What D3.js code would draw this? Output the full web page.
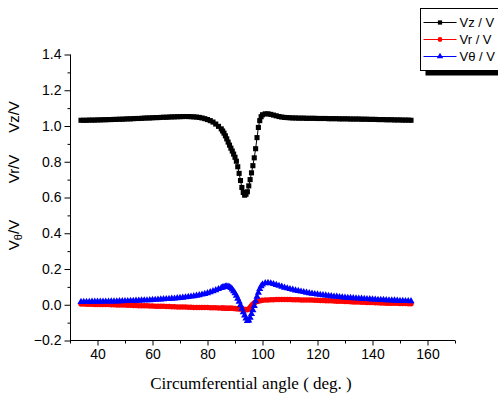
<!DOCTYPE html>
<html>
<head>
<meta charset="utf-8">
<script src="https://cdn.jsdelivr.net/npm/d3@7"></script>
<style>
  body { margin: 0; background: #fff; }
  svg { display: block; font-family: Arial, "Liberation Sans", sans-serif; }
  .tick-label { font-size: 14px; fill: #000; }
  .axis-title { font-family: "Times New Roman", "Liberation Serif", serif; font-size: 17px; }
  .y-title { font-size: 15px; }
  .legend-label { font-size: 13px; }
</style>
</head>
<body>
<div id="chart"></div>
<script>
const ANGLES = [
  34, 35, 36, 37, 38, 39, 40, 41, 42, 43, 44, 45, 46, 47, 48, 49, 50, 51, 52, 53,
  54, 55, 56, 57, 58, 59, 60, 61, 62, 63, 64, 65, 66, 67, 68, 69, 70, 71, 72, 73,
  74, 75, 76, 77, 78, 79, 80, 81, 82, 83, 84, 85,
  85.5, 86, 86.5, 87, 87.5, 88, 88.5, 89, 89.5, 90, 90.5, 91, 91.5, 92, 92.5,
  93, 93.5, 94, 94.5, 95, 95.5, 96, 96.5, 97, 97.5, 98, 98.5, 99, 99.5, 100,
  101, 102, 103, 104, 105, 106, 107, 108, 109, 110, 111, 112, 113, 114, 115, 116,
  117, 118, 119, 120, 121, 122, 123, 124, 125, 126, 127, 128, 129, 130, 131, 132,
  133, 134, 135, 136, 137, 138, 139, 140, 141, 142, 143, 144, 145, 146, 147, 148,
  149, 150, 151, 152, 153, 154,
];

const VZ = [
  1.032, 1.032, 1.032, 1.033, 1.033, 1.033, 1.034, 1.034, 1.035, 1.035,
  1.036, 1.036, 1.037, 1.037, 1.038, 1.038, 1.039, 1.040, 1.040, 1.041,
  1.042, 1.042, 1.043, 1.044, 1.045, 1.045, 1.046, 1.047, 1.047, 1.048,
  1.049, 1.049, 1.050, 1.051, 1.051, 1.052, 1.052, 1.053, 1.053, 1.053,
  1.052, 1.051, 1.050, 1.048, 1.045, 1.041, 1.036, 1.030, 1.022, 1.011,
  0.998, 0.984,
  0.972, 0.960, 0.945, 0.928, 0.910, 0.893, 0.876, 0.860, 0.843, 0.825,
  0.803, 0.772, 0.735, 0.695, 0.656, 0.628, 0.613, 0.618, 0.632, 0.665,
  0.700, 0.738, 0.778, 0.822, 0.873, 0.935, 0.992, 1.030, 1.052, 1.063,
  1.068, 1.068, 1.065, 1.061, 1.057, 1.053, 1.050, 1.048, 1.047, 1.046,
  1.045, 1.045, 1.044, 1.044, 1.044, 1.043, 1.043, 1.043, 1.043, 1.042,
  1.042, 1.042, 1.042, 1.041, 1.041, 1.041, 1.041, 1.040, 1.040, 1.040,
  1.040, 1.039, 1.039, 1.039, 1.039, 1.038, 1.038, 1.038, 1.037, 1.037,
  1.037, 1.036, 1.036, 1.036, 1.035, 1.035, 1.035, 1.034, 1.034, 1.034,
  1.033, 1.033, 1.033, 1.032,
];

const VR = [
  0.004, 0.004, 0.003, 0.003, 0.003, 0.002, 0.002, 0.002, 0.001, 0.001,
  0.001, 0.000, 0.000, -0.001, -0.001, -0.002, -0.002, -0.003, -0.003, -0.004,
  -0.004, -0.005, -0.005, -0.006, -0.006, -0.007, -0.007, -0.008, -0.008, -0.009,
  -0.009, -0.010, -0.010, -0.011, -0.011, -0.012, -0.012, -0.013, -0.013, -0.014,
  -0.014, -0.015, -0.015, -0.015, -0.016, -0.016, -0.016, -0.017, -0.017, -0.017,
  -0.018, -0.018,
  -0.018, -0.018, -0.019, -0.019, -0.019, -0.020, -0.020, -0.020, -0.021, -0.021,
  -0.022, -0.022, -0.023, -0.023, -0.024, -0.025, -0.026, -0.027, -0.028, -0.024,
  -0.016, -0.006, 0.003, 0.010, 0.015, 0.019, 0.021, 0.023, 0.024, 0.025,
  0.026, 0.027, 0.028, 0.028, 0.029, 0.029, 0.029, 0.029, 0.029, 0.029,
  0.028, 0.028, 0.028, 0.027, 0.027, 0.027, 0.026, 0.026, 0.025, 0.025,
  0.024, 0.024, 0.023, 0.022, 0.022, 0.021, 0.020, 0.020, 0.019, 0.018,
  0.018, 0.017, 0.016, 0.016, 0.015, 0.014, 0.014, 0.013, 0.012, 0.012,
  0.011, 0.011, 0.010, 0.010, 0.009, 0.009, 0.008, 0.008, 0.008, 0.007,
  0.007, 0.007, 0.006, 0.006,
];

const VTHETA = [
  0.016, 0.016, 0.016, 0.016, 0.017, 0.017, 0.017, 0.017, 0.018, 0.018,
  0.018, 0.019, 0.019, 0.019, 0.020, 0.020, 0.021, 0.021, 0.022, 0.022,
  0.023, 0.023, 0.024, 0.025, 0.025, 0.026, 0.027, 0.028, 0.029, 0.030,
  0.031, 0.032, 0.033, 0.034, 0.035, 0.037, 0.038, 0.040, 0.042, 0.044,
  0.046, 0.048, 0.051, 0.054, 0.057, 0.061, 0.065, 0.070, 0.076, 0.082,
  0.088, 0.094,
  0.097, 0.100, 0.102, 0.103, 0.102, 0.099, 0.094, 0.086, 0.076, 0.064,
  0.050, 0.034, 0.017, -0.002, -0.022, -0.042, -0.060, -0.076, -0.090, -0.088,
  -0.072, -0.052, -0.030, -0.006, 0.020, 0.045, 0.068, 0.088, 0.104, 0.114,
  0.121, 0.122, 0.120, 0.116, 0.111, 0.106, 0.101, 0.096, 0.092, 0.088,
  0.084, 0.080, 0.077, 0.074, 0.071, 0.068, 0.065, 0.062, 0.060, 0.058,
  0.056, 0.054, 0.052, 0.050, 0.048, 0.046, 0.045, 0.043, 0.042, 0.040,
  0.039, 0.038, 0.037, 0.036, 0.035, 0.034, 0.033, 0.032, 0.031, 0.030,
  0.029, 0.028, 0.027, 0.027, 0.026, 0.025, 0.024, 0.024, 0.023, 0.022,
  0.022, 0.021, 0.021, 0.020,
];

const X_TICKS = [40, 60, 80, 100, 120, 140, 160];
const X_MINOR_TICKS = [30, 50, 70, 90, 110, 130, 150, 170];
const Y_TICKS = [-0.2, 0.0, 0.2, 0.4, 0.6, 0.8, 1.0, 1.2, 1.4];
const Y_MINOR_TICKS = [-0.1, 0.1, 0.3, 0.5, 0.7, 0.9, 1.1, 1.3];

const SERIES = [
  { name: "Vz / V", values: VZ, color: "#000000", symbol: d3.symbolSquare, size: 26 },
  { name: "Vr / V", values: VR, color: "#ff0000", symbol: d3.symbolCircle, size: 24 },
  { name: "V\u03b8 / V", values: VTHETA, color: "#0000ff", symbol: d3.symbolTriangle, size: 22 },
];

function renderChart() {
  const width = 498;
  const height = 395;
  const svg = d3.select("#chart").append("svg").attr("width", width).attr("height", height);

  const x = d3.scaleLinear().domain([30, 170]).range([70, 455]);
  const y = d3.scaleLinear().domain([-0.2, 1.4]).range([340.5, 54.5]);

  // y axis: major ticks labelled, minor ticks shorter
  svg
    .append("g")
    .attr("transform", "translate(70.5, 0)")
    .call(d3.axisLeft(y).tickValues(Y_TICKS).tickSize(6).tickPadding(3).tickFormat(d3.format(".1f")))
    .call((g) => g.select(".domain").attr("d", `M0,${y(1.4)}V${y(-0.2)}`))
    .call((g) => g.selectAll("text").attr("class", "tick-label").attr("font-size", null).attr("font-family", null));

  svg
    .append("g")
    .attr("transform", "translate(70.5, 0)")
    .call(d3.axisLeft(y).tickValues(Y_MINOR_TICKS).tickSize(3).tickFormat(""))
    .call((g) => g.select(".domain").remove());

  svg
    .append("g")
    .attr("transform", "translate(0, 340.5)")
    .call(d3.axisBottom(x).tickValues(X_TICKS).tickSize(5).tickPadding(4))
    .call((g) => g.select(".domain").attr("d", `M${x(30)},0H${x(170)}`))
    .call((g) => g.selectAll("text").attr("class", "tick-label").attr("font-size", null).attr("font-family", null));

  svg
    .append("g")
    .attr("transform", "translate(0, 340.5)")
    .call(d3.axisBottom(x).tickValues(X_MINOR_TICKS).tickSize(3).tickFormat(""))
    .call((g) => g.select(".domain").remove());

  svg
    .append("text")
    .attr("class", "axis-title")
    .attr("x", 251)
    .attr("y", 389)
    .attr("text-anchor", "middle")
    .text("Circumferential angle ( deg. )");

  // stacked y titles
  const yTitles = [
    { cy: 117, parts: [["V", false], ["z", false], ["/V", false]] },
    { cy: 169, parts: [["V", false], ["r", false], ["/V", false]] },
    { cy: 235, parts: [["V", false], ["\u03b8", true], ["/V", false]] },
  ];
  yTitles.forEach((t) => {
    const text = svg
      .append("text")
      .attr("class", "y-title")
      .attr("text-anchor", "middle")
      .attr("transform", `translate(19, ${t.cy}) rotate(-90)`);
    t.parts.forEach(([s, sub]) => {
      const span = text.append("tspan").text(s);
      if (sub) span.attr("font-size", "11px").attr("baseline-shift", "-25%");
    });
  });

  const line = d3
    .line()
    .x((d) => x(d[0]))
    .y((d) => y(d[1]));

  SERIES.forEach((s) => {
    const points = ANGLES.map((a, i) => [a, s.values[i]]);
    svg
      .append("path")
      .attr("d", line(points))
      .attr("fill", "none")
      .attr("stroke", s.color)
      .attr("stroke-width", 1);

    svg
      .append("g")
      .selectAll("path")
      .data(points)
      .join("path")
      .attr("transform", (d) => `translate(${x(d[0])}, ${y(d[1])})`)
      .attr("d", d3.symbol().type(s.symbol).size(s.size))
      .attr("fill", s.color);
  });

  // legend, partly cut off at the right edge
  const legend = svg.append("g").attr("transform", "translate(420.5, 8.5)");
  legend.append("rect").attr("x", 5).attr("y", 5).attr("width", 100).attr("height", 62).attr("fill", "#000");
  legend
    .append("rect")
    .attr("x", 0)
    .attr("y", 0)
    .attr("width", 100)
    .attr("height", 62)
    .attr("fill", "#fff")
    .attr("stroke", "#000");

  SERIES.forEach((s, i) => {
    const rowY = 14 + i * 17;
    legend
      .append("line")
      .attr("x1", 3)
      .attr("x2", 36)
      .attr("y1", rowY)
      .attr("y2", rowY)
      .attr("stroke", s.color);
    legend
      .append("path")
      .attr("transform", `translate(19.5, ${rowY})`)
      .attr("d", d3.symbol().type(s.symbol).size(18))
      .attr("fill", s.color);
    legend
      .append("text")
      .attr("class", "legend-label")
      .attr("x", 39)
      .attr("y", rowY + 4.5)
      .text(s.name);
  });
}

renderChart();
</script>
</body>
</html>
